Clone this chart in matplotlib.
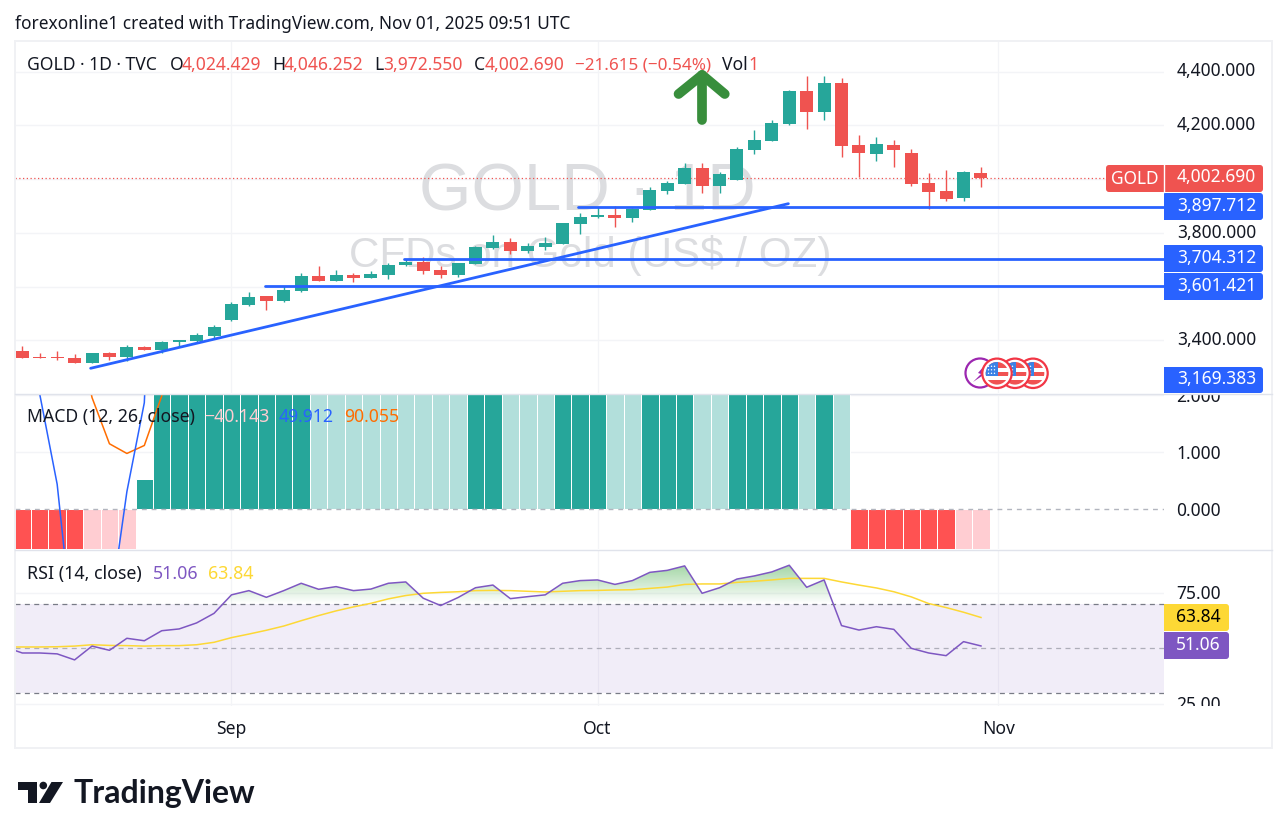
import numpy as np
import matplotlib
matplotlib.use("Agg")
import matplotlib.pyplot as plt
from matplotlib.patches import Circle, FancyBboxPatch, PathPatch, Polygon, Rectangle
from matplotlib.path import Path

plt.rcParams["font.family"] = ["Noto Sans", "DejaVu Sans"]

# daily candles
opens = [3360.3, 3338, 3338, 3334, 3316.9, 3352.8, 3339.2, 3375.2, 3364, 3395, 3397.5, 3417.4, 3476.9, 3532.8,
         3565, 3547.6, 3584.9, 3639.5, 3622.1, 3643.2, 3633.2, 3644.4, 3681.6, 3691.6, 3661.8, 3644.4, 3685.4,
         3743.7, 3766, 3733.7, 3748.6, 3759.8, 3834.2, 3860.3, 3866.5, 3856.6, 3886.4, 3957.1, 3983.1, 4041.4,
         3975.7, 3998, 4109.7, 4143.2, 4206.5, 4328, 4251.1, 4357.8, 4127, 4094.8, 4127, 4097.3, 3985.6, 3955.8,
         3931, 4024.429]
highs = [3378.9, 3352.8, 3360.3, 3349, 3352.8, 3356.6, 3382.6, 3378.9, 3397.5, 3401.2, 3427.3, 3457.1, 3542.7,
         3579.9, 3565, 3602.2, 3650.6, 3676.7, 3661.8, 3650.6, 3658.1, 3687.8, 3702.7, 3708.9, 3676.7, 3687.8,
         3751.1, 3792.1, 3780.9, 3762.3, 3784.6, 3836.7, 3874, 3896.3, 3900, 3892.6, 3970.7, 3993, 4060, 4060,
         4026.5, 4119.6, 4182.9, 4220.1, 4331.8, 4383.9, 4383.9, 4376.4, 4164.3, 4156.8, 4145.7, 4112.2, 4022.8,
         4034, 4030.3, 4046.252]
lows = [3335.5, 3335.5, 3328, 3316.9, 3316.9, 3326.8, 3323.1, 3365.3, 3354.1, 3376.4, 3388.8, 3407.4, 3473.2,
        3529, 3514.1, 3543.9, 3581.1, 3622.1, 3622.1, 3618.4, 3633.2, 3629.5, 3676.7, 3648.1, 3633.2, 3637,
        3685.4, 3740, 3722.6, 3726.3, 3737.5, 3759.8, 3797, 3856.6, 3823.1, 3841.7, 3886.4, 3945.9, 3983.1,
        3949.6, 3949.6, 3998, 4094.8, 4143.2, 4202.7, 4187.8, 4221.3, 4083.6, 4007.9, 4068.7, 4046.4, 3975.7,
        3890.1, 3919.8, 3919.8, 3972.55]
closes = [3335.5, 3335.5, 3335.5, 3316.9, 3352.8, 3338, 3375.2, 3365.3, 3393.8, 3401.2, 3419.8, 3449.6, 3535.2,
          3561.3, 3547.6, 3587.3, 3639.5, 3622.1, 3643.2, 3633.2, 3646.9, 3680.4, 3691.6, 3659.3, 3644.4, 3687.8,
          3747.4, 3766, 3733.7, 3751.1, 3762.3, 3836.7, 3859.1, 3866.5, 3856.6, 3888.8, 3959.6, 3985.6, 4041.4,
          3975.7, 4019.1, 4112.2, 4145.7, 4208.9, 4328, 4251.1, 4357.8, 4124.6, 4097.3, 4130.8, 4109.7, 3983.1,
          3953.3, 3927.3, 4026.5, 4002.69]

# MACD, most of it runs off the pane, only the part near zero can be read
macd_hist = [-4, -6, -8, -10, -8, -5, -2, 0.53, 4, 8, 12, 16, 20, 24, 28, 31, 33, 32, 30, 28, 26, 24, 22, 20, 18, 16,
             18, 21, 20, 19, 18, 20, 22, 24, 23, 22, 24, 26, 28, 27, 26, 28, 30, 33, 36, 34, 37, 30, -10, -20, -30,
             -40, -50, -56, -48, -40.143]
macd_line = [12, 2.02, 0.44, -2.43, -3.0, -1.85, 0.31, 1.87, 9, 20, 32, 45, 60, 72, 85, 95, 104, 108, 110, 110, 108,
             105, 102, 100, 96, 94, 96, 98, 96, 95, 93, 96, 98, 100, 100, 100, 104, 108, 113, 113, 113, 118, 124,
             132, 140, 140, 146, 138, 122, 108, 94, 80, 64, 52, 50, 49.912]
macd_signal = [14, 9, 6, 3.5, 1.96, 1.15, 0.98, 1.12, 1.99, 6, 14, 24, 36, 46, 56, 66, 72, 76, 80, 82, 82, 82, 80, 80,
               78, 78, 78, 78, 77, 76, 75, 76, 76, 76, 77, 78, 80, 82, 85, 86, 87, 90, 94, 99, 104, 106, 109, 108,
               106, 104, 102, 100, 98, 95, 92, 90.055]

# RSI starts one bar left of the pane so the line runs in from the edge
rsi_line = [50.6, 47.9, 47.9, 47.5, 44.8, 51.0, 49.1, 54.5, 53.4, 57.9, 58.7, 61.4, 65.7, 74, 75.9, 72.9, 75.9, 79.2,
            76.5, 77.7, 75.9, 76.6, 79.2, 79.8, 72.5, 69.2, 72.8, 77.2, 78.4, 72.3, 73.2, 74, 79.2, 80.4, 80.7, 78.7,
            80.4, 84.1, 85, 87, 74.7, 77.2, 81.1, 82.5, 84.3, 87.3, 77.4, 80.7, 60.2, 58.2, 59.7, 58.5, 50, 47.9,
            46.7, 53, 51.06]
rsi_sma = [50.6, 50.6, 50.6, 50.7, 51, 51.6, 51.3, 51.2, 51, 51.2, 51.2, 51.6, 52.7, 54.8, 56.4, 58.1, 60, 62.4, 64.7,
           66.8, 68.6, 70.2, 72.2, 73.7, 74.7, 75.1, 75.4, 75.9, 76, 75.9, 75.6, 75.3, 75.6, 75.9, 76, 76.2, 76.3,
           76.9, 77.5, 78.7, 78.9, 78.9, 79.6, 80.1, 80.7, 81.4, 81.4, 81.4, 79.8, 78.4, 77.1, 75.4, 73.1, 70.1,
           68.3, 66.2, 63.84]

price_ticks = [4400, 4200, 3800, 3400]
price_grid = [4400, 4200, 4000, 3800, 3600, 3400]
macd_ticks = [2, 1, 0]
rsi_ticks = [75, 25]
rsi_levels = [70, 50, 30]
month_labels = ["Sep", "Oct", "Nov"]
month_bars = [12, 33, 56]

last_price = 4002.690
level_prices = [3897.712, 3704.312, 3601.421]
level_starts = [31.87, 21.9, 13.93]
trend_bars = [3.92, 43.95]
trend_prices = [3295.8, 3908.6]

UP = "#26a69a"
DOWN = "#ef5350"
BLUE = "#2962ff"
ORANGE = "#ff6d00"
PURPLE = "#7e57c2"
YELLOW = "#fdd835"
INK = "#131722"
GRID = "#f3f4f7"
SEP = "#e0e3eb"

W, H = 1286, 838
fig = plt.figure(figsize=(W / 100, H / 100), dpi=100, facecolor="white")


def pane(x0, y0, x1, y1, zorder=1):
    ax = fig.add_axes([x0 / W, 1 - y1 / H, (x1 - x0) / W, (y1 - y0) / H], zorder=zorder)
    ax.set_axis_off()
    return ax


XLIM = (-0.419, 65.5)
YLIM_MAIN = (3203.8, 4514.3)
YLIM_MACD = (-0.696, 2.023)
YLIM_RSI = (24.1, 94.14)

ax_main = pane(15, 41, 1164, 393)
ax_macd = pane(15, 394, 1164, 549)
ax_rsi = pane(15, 550, 1164, 706)
for a, yl in ((ax_main, YLIM_MAIN), (ax_macd, YLIM_MACD), (ax_rsi, YLIM_RSI)):
    a.set_xlim(*XLIM)
    a.set_ylim(*yl)
    a.vlines(month_bars, *yl, color=GRID, lw=0.9, zorder=0)

scale_main = pane(1164, 41, 1272, 393, zorder=2)
scale_macd = pane(1164, 394, 1272, 549, zorder=2)
scale_rsi = pane(1164, 550, 1272, 706, zorder=2)
scale_main.set_ylim(*YLIM_MAIN)
scale_macd.set_ylim(*YLIM_MACD)
scale_rsi.set_ylim(*YLIM_RSI)
scale_main.set_xlim(1164, 1272)
scale_macd.set_xlim(1164, 1272)
scale_rsi.set_xlim(1164, 1272)

# main pane
ax_main.hlines(price_grid, *XLIM, color=GRID, lw=1.0, zorder=0)
ax_main.text(32.4, 3885, "GOLD · 1D", fontsize=48.5, color="#dcdde0", ha="center", va="baseline",
             family="Liberation Sans", zorder=1)
ax_main.text(32.6, 3673, "CFDs on Gold (US$ / OZ)", fontsize=30.3, color="#dcdde0", ha="center", va="baseline",
             family="Liberation Sans", zorder=1)
ax_main.hlines(last_price, *XLIM, color=DOWN, lw=0.9, linestyles=(0, (1, 2)), zorder=2)

bars = np.arange(len(opens))
o = np.array(opens)
c = np.array(closes)
colors = [UP if b >= a else DOWN for a, b in zip(o, c)]
ax_main.vlines(bars, lows, highs, color=colors, lw=1.0, zorder=3)
ax_main.bar(bars, np.abs(c - o), bottom=np.minimum(o, c), width=0.746, color=colors, lw=0, zorder=3)

for price, start in zip(level_prices, level_starts):
    ax_main.plot([start, XLIM[1]], [price, price], color=BLUE, lw=2.0, solid_capstyle="round", zorder=4)
ax_main.plot(trend_bars, trend_prices, color=BLUE, lw=2.0, solid_capstyle="round", zorder=4)

# hand drawn up arrow
ax_main.plot([39, 39], [4220, 4388], color="#388e3c", lw=7, solid_capstyle="round", zorder=5)
ax_main.plot([37.65, 39, 40.3], [4317, 4388, 4317], color="#388e3c", lw=7, solid_capstyle="round",
             solid_joinstyle="round", zorder=5)

# MACD pane
ax_macd.hlines(1, *XLIM, color=GRID, lw=1.0, zorder=0)
ax_macd.hlines(2, *XLIM, color=GRID, lw=1.0, zorder=0)
hist = np.array(macd_hist)
hist_colors = []
for i, v in enumerate(hist):
    rising = i == 0 and v > 0 or i > 0 and v >= hist[i - 1]
    if v >= 0:
        hist_colors.append(UP if rising else "#b2dfdb")
    else:
        hist_colors.append("#ffcdd2" if rising else "#ff5252")
ax_macd.bar(bars, hist, width=1.0, color=hist_colors, edgecolor="white", lw=0.72, zorder=2)
ax_macd.hlines(0, *XLIM, color="#b2b5be", lw=1.0, linestyles=(0, (3.5, 3.5)), zorder=3)
ax_macd.plot(bars, macd_signal, color=ORANGE, lw=1.1, zorder=4)
ax_macd.plot(bars, macd_line, color=BLUE, lw=1.1, zorder=4)

# RSI pane
rsi_x = np.arange(-1, len(rsi_line) - 1)
rsi = np.array(rsi_line)
ax_rsi.axhspan(rsi_levels[2], rsi_levels[0], color=PURPLE, alpha=0.1, lw=0, zorder=1)
ax_rsi.hlines(rsi_ticks, *XLIM, color=GRID, lw=1.0, zorder=0)
ax_rsi.hlines([rsi_levels[0], rsi_levels[2]], *XLIM, color="#787b86", lw=0.9, linestyles=(0, (4, 3.5)), zorder=3)
ax_rsi.hlines(rsi_levels[1], *XLIM, color="#787b86", alpha=0.55, lw=0.9, linestyles=(0, (4, 3.5)), zorder=3)

over = ax_rsi.fill_between(rsi_x, rsi, 70, where=rsi > 70, interpolate=True, facecolor="none", lw=0)
shape = Path.make_compound_path(*over.get_paths())
clip = PathPatch(shape, transform=ax_rsi.transData, facecolor="none", lw=0)
ax_rsi.add_patch(clip)
ramp = np.zeros((64, 1, 4))
ramp[..., 0] = 76 / 255
ramp[..., 1] = 175 / 255
ramp[..., 2] = 80 / 255
ramp[:, 0, 3] = np.linspace(0.65, 0.0, 64)
img = ax_rsi.imshow(ramp, extent=[XLIM[0], XLIM[1], 70, 92], aspect="auto", zorder=2)
img.set_clip_path(clip)
ax_rsi.set_xlim(*XLIM)
ax_rsi.set_ylim(*YLIM_RSI)

ax_rsi.plot(rsi_x, rsi_sma, color=YELLOW, lw=1.1, zorder=4)
ax_rsi.plot(rsi_x, rsi, color=PURPLE, lw=1.1, zorder=5)

# right scale tick labels, clipped by their panes
TICK_FS = 12.5
for v in price_ticks:
    scale_main.text(1256, v + 1, f"{v:,.3f}", fontsize=TICK_FS, color=INK, ha="right", va="center", clip_on=True)
for v in macd_ticks:
    scale_macd.text(1221, v - 0.025, f"{v:.3f}", fontsize=TICK_FS, color=INK, ha="right", va="center", clip_on=True)
for v in rsi_ticks:
    scale_rsi.text(1221, v - 0.5, f"{v:.2f}", fontsize=TICK_FS, color=INK, ha="right", va="center", clip_on=True)

# everything else is placed in picture pixels
ov = fig.add_axes([0, 0, 1, 1], zorder=5)
ov.set_xlim(0, W)
ov.set_ylim(H, 0)
ov.set_axis_off()
ov.patch.set_alpha(0)

# chart frame and pane separators
ov.add_patch(Rectangle((15, 41), 1257, 707, fc="none", ec="#f0f1f4", lw=1.4))
ov.plot([15, 1272], [393.5, 393.5], color=SEP, lw=1.0)
ov.plot([15, 1272], [549.5, 549.5], color=SEP, lw=1.0)


def txt(x, y, s, color=INK, fs=12.5, **kw):
    kw.setdefault("va", "center")
    return ov.text(x, y, s, color=color, fontsize=fs, **kw)


def box(x0, y0, x1, y1, color, square_left=False):
    ov.add_patch(FancyBboxPatch((x0, y0), x1 - x0, y1 - y0, boxstyle="round,pad=0,rounding_size=3",
                                fc=color, ec="none", mutation_aspect=1))
    if square_left:
        ov.add_patch(Rectangle((x0, y0), 6, y1 - y0, fc=color, ec="none"))


txt(15, 24, "forexonline1 created with TradingView.com, Nov 01, 2025 09:51 UTC", fs=12.45)

txt(27, 65, "GOLD · 1D · TVC", fs=12.6)
for x, s in ((170, "O"), (272, "H"), (374, "L"), (474, "C"), (722, "Vol")):
    txt(x, 65, s, fs=12.6)
for x, s in ((182, "4,024.429"), (284, "4,046.252"), (383, "3,972.550"), (485, "4,002.690")):
    txt(x, 65, s, color=DOWN, fs=12.6)
txt(575, 65, "−21.615 (−0.54%)", color=DOWN, fs=12.3)
txt(748, 65, "1", color=DOWN, fs=12.6)

txt(27, 417, "MACD (12, 26, close)", fs=12.7)
txt(204, 417, "−40.143", color="#ffcdd2", fs=12.7)
txt(279, 417, "49.912", color=BLUE, fs=12.7)
txt(344, 417, "90.055", color=ORANGE, fs=12.7)

txt(27, 573.5, "RSI (14, close)", fs=12.8)
txt(153, 573.5, "51.06", color=PURPLE, fs=12.8)
txt(208, 573.5, "63.84", color=YELLOW, fs=12.8)

for bar, name in zip(month_bars, month_labels):
    px = 15 + (bar - XLIM[0]) / (XLIM[1] - XLIM[0]) * 1149
    txt(px, 728.5, name, ha="center", fs=12.6, fontweight="bold")

# price labels on the right
box(1106, 165, 1263, 192, DOWN)
ov.plot([1163.5, 1163.5], [165, 192], color="white", lw=1.0)
txt(1134.5, 179, "GOLD", color="white", ha="center")
txt(1256, 177.5, f"{last_price:,.3f}", color="white", ha="right")
for (y0, y1), v in zip(((193, 220), (245, 272), (273, 300), (367, 393)), level_prices + [3169.383]):
    box(1164, y0, 1263, y1, BLUE, square_left=True)
    txt(1256, (y0 + y1) / 2 - 1, f"{v:,.3f}", color="white", ha="right")
box(1164, 604, 1229, 631, YELLOW, square_left=True)
txt(1221, 617, "63.84", color="#000000", ha="right")
box(1164, 632, 1229, 659, PURPLE, square_left=True)
txt(1221, 645, "51.06", color="white", ha="right")

# event badges
ov.add_patch(Circle((980, 373), 14.5, fc="white", ec="#9c27b0", lw=1.6))
ov.add_patch(Polygon([(984, 366), (978, 373), (981, 374), (973, 382), (982, 376), (984, 372)], fc="#9c27b0", ec="none"))
for cx in (1033, 1015, 997):
    cy = 373.3
    ov.add_patch(Circle((cx, cy), 14.7, fc="white", ec="#f23645", lw=1.6, zorder=3))
    flag = Circle((cx, cy), 11.3, fc="white", ec="none", zorder=3)
    ov.add_patch(flag)
    for top, bot in ((-12, -5.5), (-1.5, 3), (7, 12)):
        r = ov.add_patch(Rectangle((cx - 12, cy + top), 24, bot - top, fc="#f05252", ec="none", zorder=3))
        r.set_clip_path(flag)
    r = ov.add_patch(Rectangle((cx - 12, cy - 12), 12.5, 15, fc="#3b82e6", ec="none", zorder=3))
    r.set_clip_path(flag)
    for dx in (-8.5, -5.5, -2.5):
        for dy in (-7, -3.5, 0):
            ov.add_patch(Circle((cx + dx, cy + dy), 0.7, fc="white", ec="none", zorder=3))

# TradingView logo
ov.add_patch(Polygon([(18, 782), (37, 782), (37, 803), (27.5, 803), (27.5, 790), (18, 790)], fc=INK, ec="none"))
ov.add_patch(Circle((43.3, 785.5), 3.8, fc=INK, ec="none"))
ov.add_patch(Polygon([(51.5, 782), (63, 782), (50, 803), (39, 803)], fc=INK, ec="none"))
ov.text(74, 803, "TradingView", color=INK, fontsize=23, family="Lato", fontweight="bold", va="baseline")

fig.savefig("out.png", dpi=100, facecolor="white")
